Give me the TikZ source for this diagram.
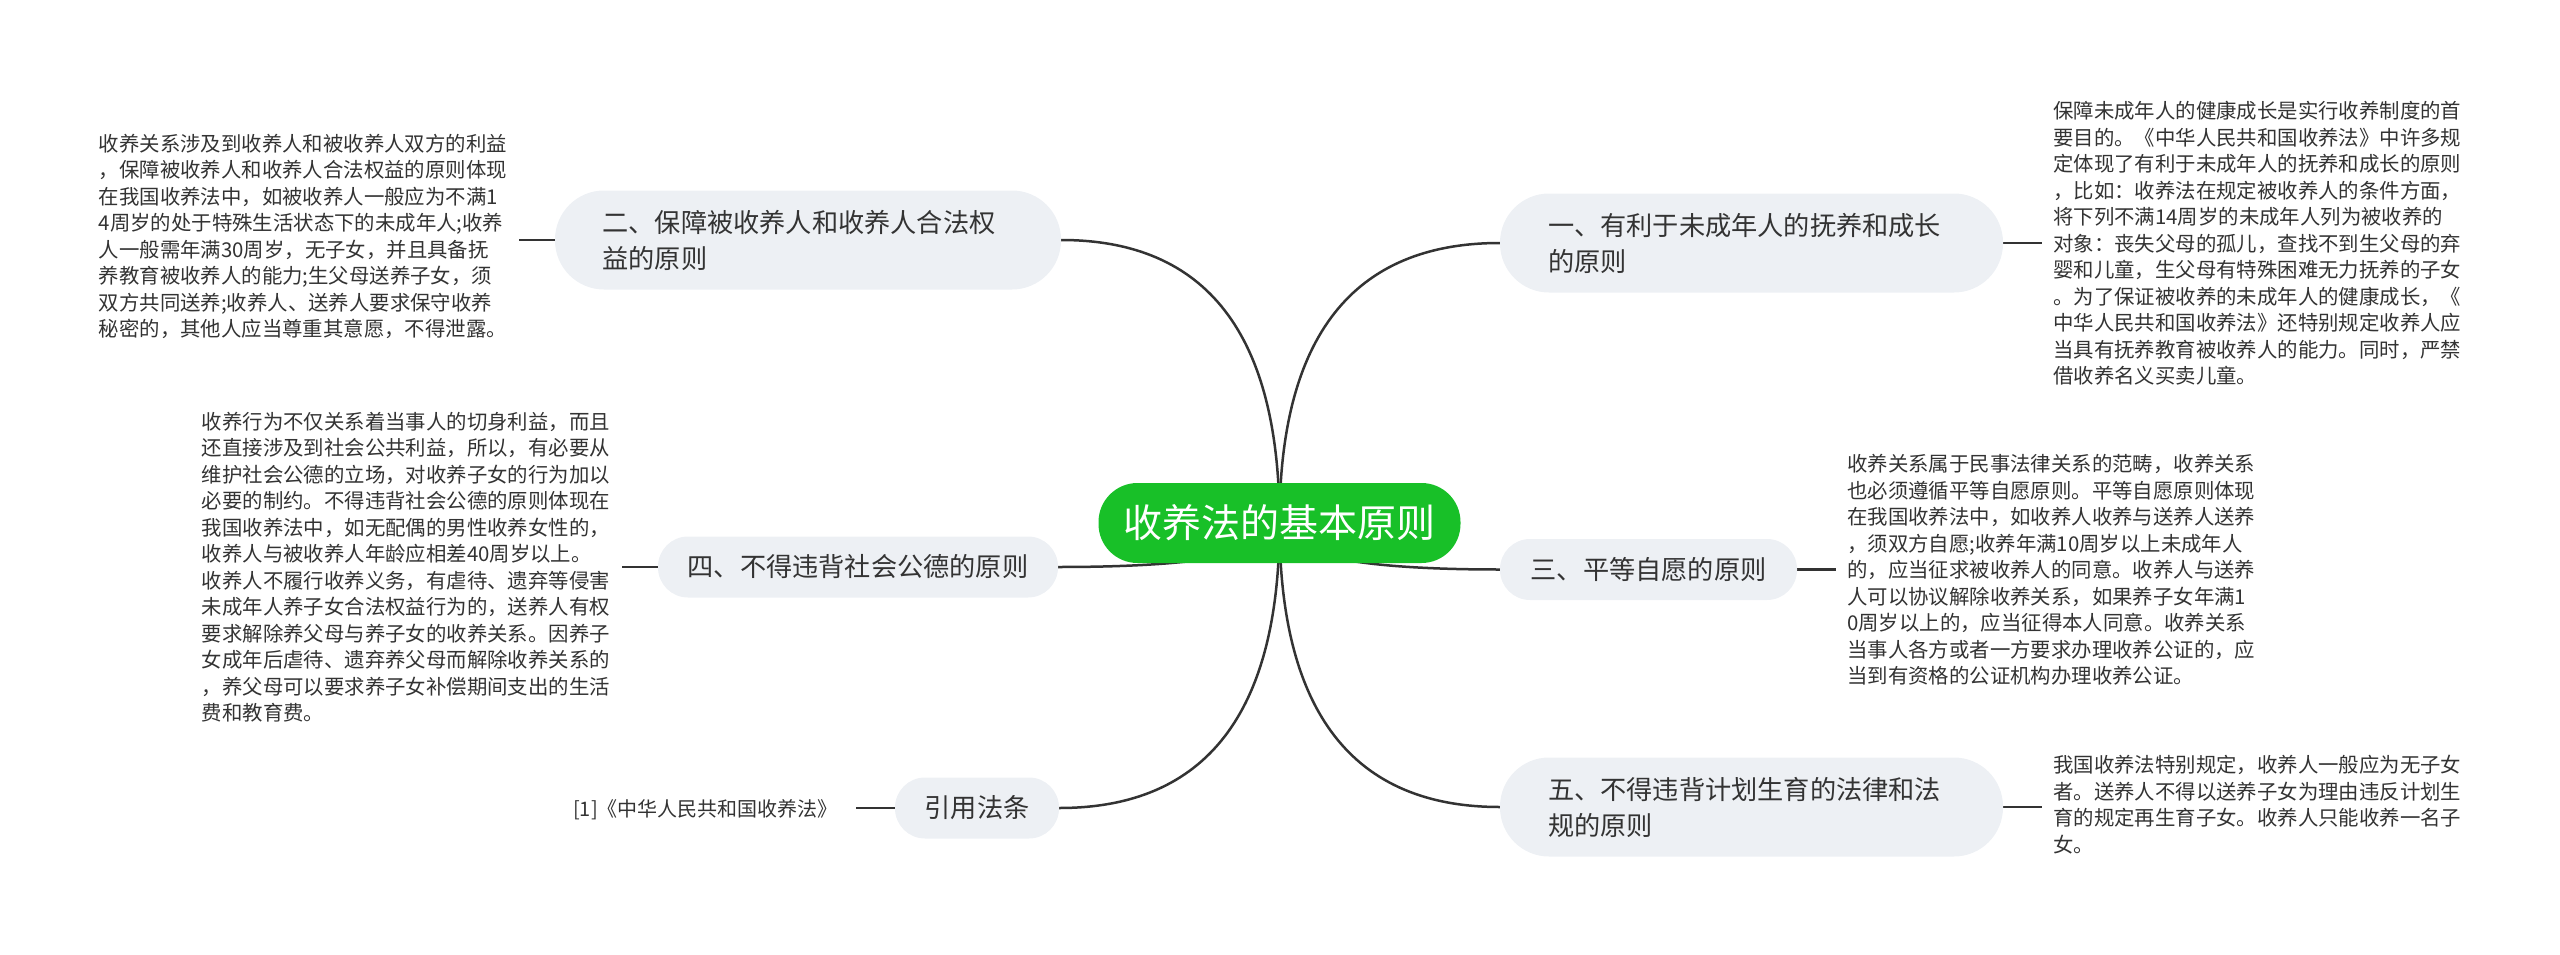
\documentclass[tikz,border=0pt]{standalone}
\usepackage{fontspec}
\setmainfont{Noto Sans CJK SC}
\usetikzlibrary{calc,backgrounds}
\definecolor{rootgreen}{RGB}{24,192,40}
\definecolor{boxgray}{RGB}{237,240,244}
\definecolor{ink}{RGB}{51,51,51}
\tikzset{
  rootbox/.style={fill=rootgreen, text=white, rounded corners=39pt, minimum width=362pt, minimum height=80pt, inner sep=0pt, font=\fontsize{39}{45}\selectfont},
  mainbox/.style={fill=boxgray, text=ink, inner ysep=0pt, font=\fontsize{26.2}{36}\selectfont},
  twoline/.style={rounded corners=49pt, minimum height=99pt, align=left},
  oneline/.style={rounded corners=30pt, minimum height=61pt, inner xsep=0pt, align=center},
  leaf/.style={text=ink, inner xsep=11pt, inner ysep=0pt, text width=409pt, align=left, font=\fontsize{20.4}{26.5}\selectfont},
  link/.style={draw=ink, line width=2.5pt},
}
\begin{document}
\begin{tikzpicture}[x=1pt,y=-1pt]
\useasboundingbox (0,0) rectangle (2560,955);
% root
\node[rootbox] (root) at (1279.5,523) {收养法的基本原则};
% main nodes
\node[mainbox,twoline,text width=407pt,inner xsep=48pt] (n1) at (1751.5,243) {一、有利于未成年人的抚养和成长\\的原则};
\node[mainbox,twoline,text width=411pt,inner xsep=47.5pt] (n2) at (808,240) {二、保障被收养人和收养人合法权\\益的原则};
\node[mainbox,oneline,minimum width=297pt] (n3) at (1648.5,569.5) {三、平等自愿的原则};
\node[mainbox,oneline,minimum width=400pt] (n4) at (858,567) {四、不得违背社会公德的原则};
\node[mainbox,twoline,text width=407pt,inner xsep=48pt] (n5) at (1751.5,807) {五、不得违背计划生育的法律和法\\规的原则};
\node[mainbox,oneline,minimum width=164pt] (n6) at (977,808) {引用法条};
% leaves
\node[leaf,anchor=west] (l1) at (2042,243.5) {保障未成年人的健康成长是实行收养制度的首\\要目的。《中华人民共和国收养法》中许多规\\定体现了有利于未成年人的抚养和成长的原则\\，比如：收养法在规定被收养人的条件方面，\\将下列不满14周岁的未成年人列为被收养的\\对象：丧失父母的孤儿，查找不到生父母的弃\\婴和儿童，生父母有特殊困难无力抚养的子女\\。为了保证被收养的未成年人的健康成长，《\\中华人民共和国收养法》还特别规定收养人应\\当具有抚养教育被收养人的能力。同时，严禁\\借收养名义买卖儿童。};
\node[leaf,anchor=east] (l2) at (519,236.5) {收养关系涉及到收养人和被收养人双方的利益\\，保障被收养人和收养人合法权益的原则体现\\在我国收养法中，如被收养人一般应为不满1\\4周岁的处于特殊生活状态下的未成年人;收养\\人一般需年满30周岁，无子女，并且具备抚\\养教育被收养人的能力;生父母送养子女，须\\双方共同送养;收养人、送养人要求保守收养\\秘密的，其他人应当尊重其意愿，不得泄露。};
\node[leaf,anchor=west] (l3) at (1836,570) {收养关系属于民事法律关系的范畴，收养关系\\也必须遵循平等自愿原则。平等自愿原则体现\\在我国收养法中，如收养人收养与送养人送养\\，须双方自愿;收养年满10周岁以上未成年人\\的，应当征求被收养人的同意。收养人与送养\\人可以协议解除收养关系，如果养子女年满1\\0周岁以上的，应当征得本人同意。收养关系\\当事人各方或者一方要求办理收养公证的，应\\当到有资格的公证机构办理收养公证。};
\node[leaf,anchor=east] (l4) at (622,567) {收养行为不仅关系着当事人的切身利益，而且\\还直接涉及到社会公共利益，所以，有必要从\\维护社会公德的立场，对收养子女的行为加以\\必要的制约。不得违背社会公德的原则体现在\\我国收养法中，如无配偶的男性收养女性的，\\收养人与被收养人年龄应相差40周岁以上。\\收养人不履行收养义务，有虐待、遗弃等侵害\\未成年人养子女合法权益行为的，送养人有权\\要求解除养父母与养子女的收养关系。因养子\\女成年后虐待、遗弃养父母而解除收养关系的\\，养父母可以要求养子女补偿期间支出的生活\\费和教育费。};
\node[leaf,anchor=west] (l5) at (2042,804.5) {我国收养法特别规定，收养人一般应为无子女\\者。送养人不得以送养子女为理由违反计划生\\育的规定再生育子女。收养人只能收养一名子\\女。};
\node[text=ink, inner xsep=18pt, inner ysep=0pt, anchor=east, font=\fontsize{20}{24}\selectfont] (ref) at (856,810) {[1]《中华人民共和国收养法》};
% connectors
\begin{pgfonlayer}{background}
\foreach \c/\e in {n1/west,n3/west,n5/west,n2/east,n4/east,n6/east}{
  \coordinate (k) at (root.center |- \c.\e);
  \draw[link] (root.center) .. controls ($(root.center)!2/3!(k)$) and ($(\c.\e)!2/3!(k)$) .. (\c.\e);
}
\draw[link] (n1.east) -- (n1.east -| l1.west);
\draw[link] (n2.west) -- (n2.west -| l2.east);
\draw[link] (n3.east) -- (n3.east -| l3.west);
\draw[link] (n4.west) -- (n4.west -| l4.east);
\draw[link] (n5.east) -- (n5.east -| l5.west);
\draw[link] (n6.west) -- (n6.west -| ref.east);
\end{pgfonlayer}
\end{tikzpicture}
\end{document}
